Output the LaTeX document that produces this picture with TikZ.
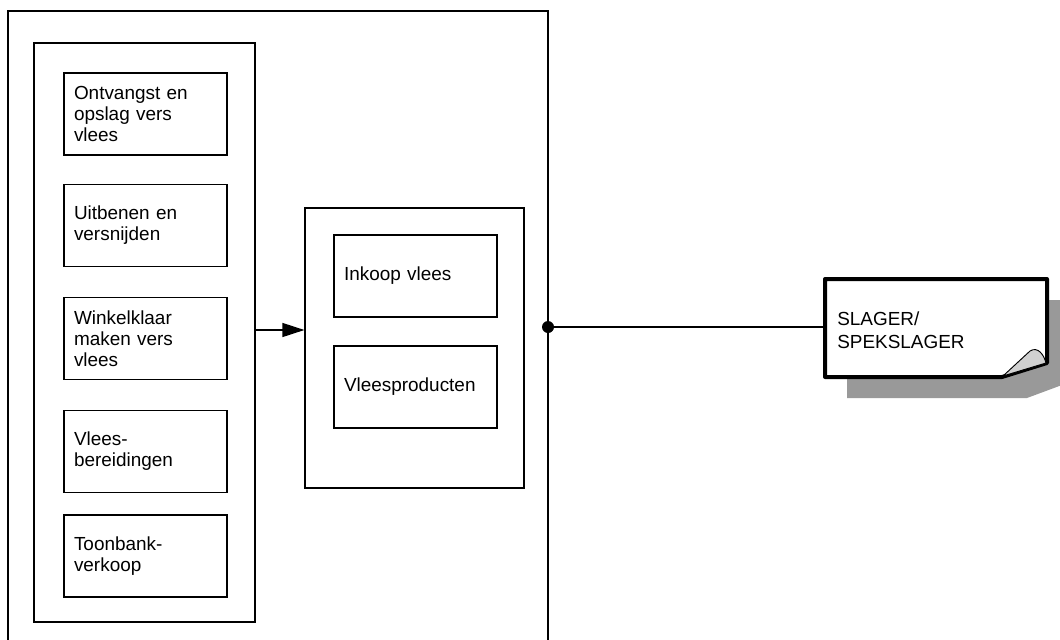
\documentclass[tikz,border=0pt]{standalone}
\usepackage{fontspec}
\setmainfont{Liberation Sans}
\usetikzlibrary{arrows.meta}
\definecolor{shadowgray}{HTML}{999999}
\definecolor{curlgray}{HTML}{D0D0D0}
\tikzset{
  box/.style={draw, line width=0.9pt, fill=white, minimum width=163*0.75pt, minimum height=82*0.75pt,
    text width=143*0.75pt, align=left, inner xsep=10*0.75pt, inner ysep=0pt,
    font=\fontsize{14.2}{15.75}\selectfont},
  frame/.style={draw, line width=0.9pt, inner sep=0pt},
  conn/.style={line width=0.9pt},
}
\begin{document}
\begin{tikzpicture}[x=0.75pt, y=-0.75pt]
\useasboundingbox (0,0) rectangle (1060,639);
\clip (0,0) rectangle (1060,639);
% outer frame (open at the bottom)
\draw[line width=0.9pt] (8,650) -- (8,11) -- (548,11) -- (548,650);
% left inner frame
\node[frame, minimum width=221*0.75pt, minimum height=579*0.75pt] (leftbox) at (144.5,332.5) {};
\node[box] (b1) at (145.5,114) {Ontvangst en\\opslag vers\\vlees};
\node[box] (b2) at (145.5,225.5) {Uitbenen en\\versnijden};
\node[box] (b3) at (145.5,338.5) {Winkelklaar\\maken vers\\vlees};
\node[box] (b4) at (145.5,451.5) {Vlees-\\bereidingen};
\node[box] (b5) at (145.5,556) {Toonbank-\\verkoop};
% middle frame
\node[frame, minimum width=219*0.75pt, minimum height=280*0.75pt] (midbox) at (414.5,348) {};
\node[box] (m1) at (415.5,276) {Inkoop vlees};
\node[box] (m2) at (415.5,387) {Vleesproducten};
% arrow
\coordinate (ay) at (0,330);
\draw[conn, -{Triangle[length=16.5pt, width=10.5pt]}] (leftbox.east |- ay) -- (midbox.west |- ay);
% note shape with shadow
\fill[shadowgray] (847,300) -- (1062,300) -- (1062,385) -- (1027,398) -- (847,398) -- cycle;
\draw[line width=3pt, line join=round, fill=white] (825,279) -- (1047,279) -- (1047,363) -- (1002,377) -- (825,377) -- cycle;
\draw[line width=0.7pt, fill=curlgray, line join=round] (1003,376) -- (1030,351) .. controls (1038,346) and (1044,355) .. (1046,363) -- cycle;
\node[anchor=west, align=left, inner sep=0pt, font=\fontsize{14.2}{17.25}\selectfont] (note) at (837,330) {SLAGER/\\SPEKSLAGER};
\coordinate (noteleft) at (825,327);
% connector with dot
\coordinate (dot) at (548,327);
\draw[conn] (dot) -- (noteleft);
\fill (dot) circle (6);
\end{tikzpicture}
\end{document}
